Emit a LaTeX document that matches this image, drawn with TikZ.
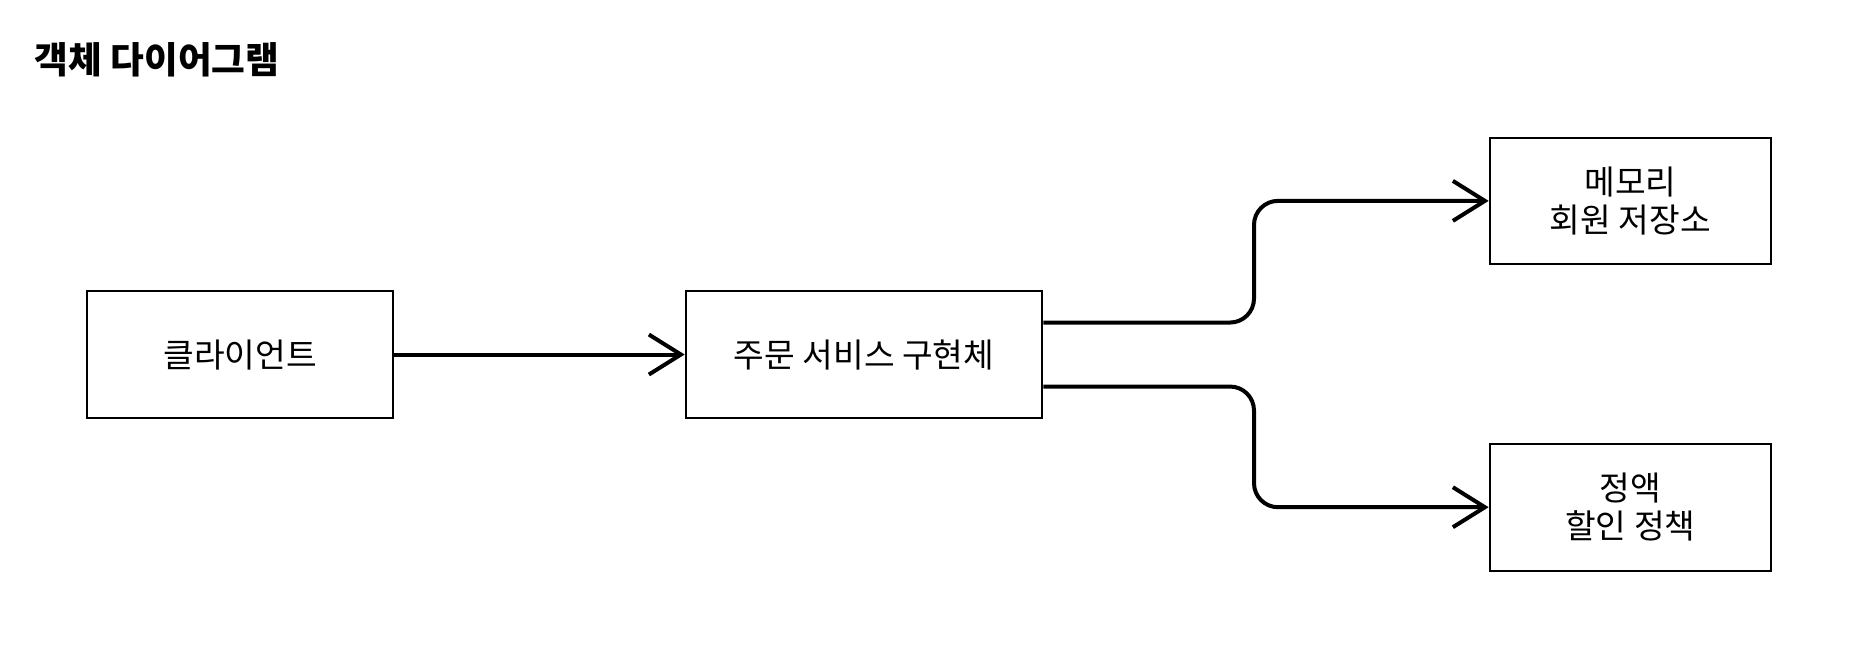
\documentclass[tikz,border=0pt]{standalone}
\usepackage{fontspec}
\setmainfont{Noto Sans CJK KR}
\usetikzlibrary{arrows.meta,calc,positioning}

\begin{document}
\begin{tikzpicture}[>={Straight Barb[length=24pt,width=30pt]},node distance=218pt]
  \tikzstyle{objbox}=[draw,line width=1.5pt,minimum height=95pt,align=center,font=\fontsize{25pt}{28.5pt}\selectfont,inner sep=0pt]
  \tikzstyle{link}=[line width=3pt,->,rounded corners=18pt]
  \useasboundingbox (0,0) rectangle (1389pt,-496.5pt);
  \node[anchor=west,font=\fontsize{27.5pt}{32pt}\selectfont\bfseries,inner sep=0pt] (title) at (26pt,-45pt) {객체 다이어그램};

  \node[objbox,minimum width=229.5pt] (client) at (180pt,-265.9pt) {클라이언트};
  \node[objbox,minimum width=267.5pt,right=of client] (svc) {주문 서비스 구현체};
  \node[objbox,minimum width=211pt,above right=18.75pt and 334pt of svc] (mem) {메모리\\회원 저장소};
  \node[objbox,minimum width=211pt,below right=18pt and 334pt of svc] (policy) {정액\\할인 정책};

  \draw[link] (client) -- (svc);
  \draw[link] ([yshift=24pt]svc.east) -- ++(158pt,0) |- (mem.west);
  \draw[link] ([yshift=-24pt]svc.east) -- ++(158pt,0) |- (policy.west);
\end{tikzpicture}
\end{document}
